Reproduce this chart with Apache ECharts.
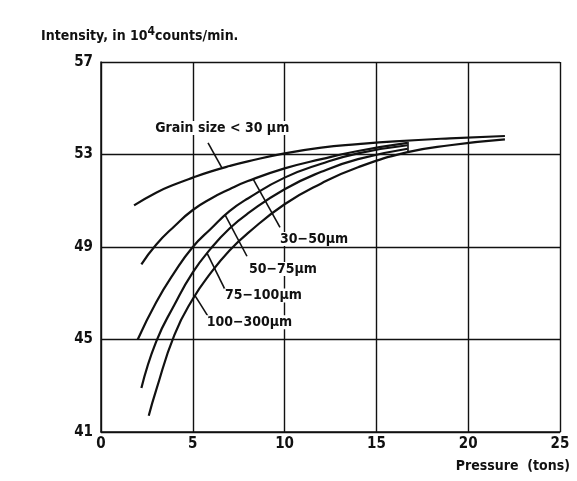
<!DOCTYPE html>
<html><head><meta charset="utf-8">
<script src="https://cdn.jsdelivr.net/npm/echarts@6/dist/echarts.min.js"></script>
<style>html,body{margin:0;padding:0;background:#fff}#c{width:577px;height:481px}</style>
</head><body><div id="c"></div>
<script>
// Pressure (tons) / Intensity (10^4 counts/min)
const curveLt30 = [[1.8,50.8],[3,51.35],[4,51.7],[5,52.0],[6,52.27],[7,52.5],[8,52.7],[10,53.05],[12,53.3],[14,53.45],[16,53.57],[19,53.7],[22,53.8]];
const curve30_50 = [[2.2,48.25],[3,49.1],[4,49.9],[5,50.6],[6,51.1],[7,51.5],[8,51.85],[10,52.4],[12,52.8],[14,53.15],[16.7,53.5]];
const curve50_75 = [[2.0,45.0],[3,46.6],[4,47.9],[5,49.0],[6,49.8],[7,50.55],[8,51.1],[10,52.0],[12,52.6],[14,53.05],[16.7,53.4]];
const curve75_100 = [[2.2,42.9],[3,44.9],[4,46.5],[5,47.9],[6,48.95],[7,49.8],[8,50.45],[10,51.5],[12,52.25],[14,52.8],[16.7,53.25]];
const curve100_300 = [[2.6,41.7],[3,42.8],[4,45.2],[5,46.75],[6,47.9],[7,48.85],[8,49.6],[10,50.85],[12,51.75],[14,52.45],[16.7,53.1],[19,53.4],[22,53.65]];
const curveNames = ['Grain size < 30 µm','30−50µm','50−75µm','75−100µm','100−300µm'];
// annotation leader lines [from curve point, to label], plus the closing stroke at the curve ends
const leaders = [
  [[6.6,52.4],[5.83,53.5]],
  [[8.28,51.95],[9.75,49.85]],
  [[6.75,50.4],[7.95,48.6]],
  [[5.77,48.75],[6.75,47.17]],
  [[5.12,46.9],[5.83,46.0]],
  [[16.7,53.55],[16.7,53.1]]
];
const labelPoints = [[2.9,54.15,curveNames[0]],[9.7,49.35,curveNames[1]],[8.0,48.05,curveNames[2]],[6.7,46.9,curveNames[3]],[5.7,45.75,curveNames[4]]];
const xTicks = [0,5,10,15,20,25];
const yTicks = [41,45,49,53,57];

const FONT = '"DejaVu Sans Condensed","Liberation Sans Narrow",sans-serif';
const INK = '#111';
const chart = echarts.init(document.getElementById('c'));
const curves = [curveLt30, curve30_50, curve50_75, curve75_100, curve100_300];
const series = curves.map((d,i)=>({
  type:'line', name:curveNames[i], data:d, smooth:0.5, symbol:'none',
  lineStyle:{color:INK, width:2.2}, z:5
}));
series.push({
  type:'line', data:[], symbol:'none',
  markLine:{silent:true, symbol:['none','none'], label:{show:false},
    lineStyle:{color:INK, width:1.6, type:'solid'},
    data: leaders.map(l=>[{coord:l[0]},{coord:l[1]}])}
});
series.push({
  type:'scatter', data:labelPoints, symbolSize:0, z:10,
  itemStyle:{opacity:1, color:'transparent'},
  label:{show:true, position:'right', distance:0, formatter:p=>p.value[2],
    fontFamily:FONT, fontWeight:'bold', fontSize:14, color:INK, opacity:1,
    backgroundColor:'#fff', padding:[0,1]}
});
chart.setOption({
  animation:false,
  backgroundColor:'#fff',
  title:{left:36, top:21, text:'Intensity, in 10{s|4}counts/min.',
    textStyle:{fontFamily:FONT, fontWeight:'bold', fontSize:14, color:INK,
      rich:{s:{fontFamily:FONT, fontWeight:'bold', fontSize:12, color:INK, verticalAlign:'top', padding:[0,0,8,0]}}}},
  grid:{left:101, right:17, top:62, bottom:49},
  xAxis:{type:'value', min:xTicks[0], max:xTicks[xTicks.length-1], interval:5,
    name:'Pressure  (tons)', nameLocation:'end', nameGap:0,
    nameTextStyle:{fontFamily:FONT, fontWeight:'bold', fontSize:14, color:INK, align:'right', verticalAlign:'top', padding:[27,-10,0,0]},
    axisLine:{lineStyle:{color:INK, width:1.5}}, axisTick:{show:false},
    axisLabel:{fontFamily:FONT, fontWeight:'bold', fontSize:15, color:INK, margin:5},
    splitLine:{show:true, lineStyle:{color:INK, width:1.4}}},
  yAxis:{type:'value', min:yTicks[0], max:yTicks[yTicks.length-1], interval:4,
    axisLine:{show:true, lineStyle:{color:INK, width:1.5}}, axisTick:{show:false},
    axisLabel:{fontFamily:FONT, fontWeight:'bold', fontSize:15, color:INK, margin:8},
    splitLine:{show:true, lineStyle:{color:INK, width:1.4}}},
  series
});
</script></body></html>
